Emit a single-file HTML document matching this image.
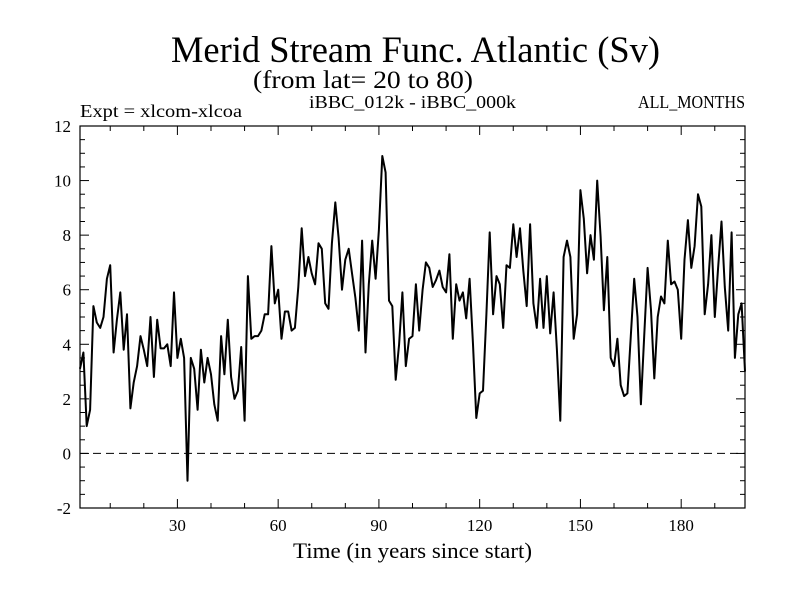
<!DOCTYPE html>
<html><head><meta charset="utf-8"><style>
body{margin:0;background:#fff}
svg{display:block;font-family:"Liberation Serif",serif}
</style></head><body>
<svg id="chart" width="800" height="600">
<text x="171" y="62" font-size="37" textLength="489" lengthAdjust="spacingAndGlyphs">Merid Stream Func. Atlantic (Sv)</text>
<text x="253" y="88" font-size="25" textLength="220" lengthAdjust="spacingAndGlyphs">(from lat= 20 to 80)</text>
<text x="80" y="117" font-size="18" textLength="162" lengthAdjust="spacingAndGlyphs">Expt = xlcom-xlcoa</text>
<text x="309" y="108" font-size="18" textLength="207" lengthAdjust="spacingAndGlyphs">iBBC_012k - iBBC_000k</text>
<text x="638" y="108" font-size="18" textLength="107" lengthAdjust="spacingAndGlyphs">ALL_MONTHS</text>
<text x="293" y="558" font-size="22" textLength="239" lengthAdjust="spacingAndGlyphs">Time (in years since start)</text>
<g id="axes"></g>
<g id="plot"></g>
</svg>
<script>
const years=[];for(let i=1;i<=199;i++)years.push(i);
const values=[3.1,3.7,1.0,1.6,5.4,4.8,4.6,5.0,6.4,6.9,3.7,4.9,5.9,3.8,5.1,1.65,2.6,3.2,4.3,3.8,3.2,5.0,2.8,4.9,3.85,3.85,4.0,3.2,5.9,3.5,4.2,3.5,-1.0,3.5,3.1,1.6,3.8,2.6,3.5,2.9,1.8,1.2,4.3,2.9,4.9,2.8,2.0,2.3,3.9,1.2,
6.5,4.2,4.3,4.3,4.5,5.1,5.1,7.6,5.5,6.0,4.2,5.2,5.2,4.5,4.6,6.1,8.25,6.5,7.2,6.6,6.2,7.7,7.5,5.5,5.3,7.7,9.2,7.9,6.0,7.1,7.5,6.6,5.7,4.5,7.8,3.7,6.2,7.8,6.4,8.2,10.9,10.3,5.6,5.4,2.7,4.0,
5.9,3.2,4.2,4.3,6.2,4.5,6.0,7.0,6.8,6.1,6.35,6.7,6.1,5.9,7.3,4.2,6.2,5.6,5.9,4.95,6.4,4.0,1.3,2.2,2.3,5.1,8.1,5.1,6.5,6.2,4.6,6.9,6.8,8.4,7.2,8.25,6.7,5.4,8.4,5.5,4.6,6.4,4.6,6.5,4.4,5.9,3.8,1.2,
7.2,7.8,7.2,4.2,5.1,9.65,8.6,6.6,8.0,7.1,10.0,7.95,5.25,7.2,3.5,3.2,4.2,2.5,2.1,2.2,4.3,6.4,5.0,1.8,4.3,6.8,5.25,2.75,5.0,5.75,5.5,7.8,6.2,6.3,6.0,4.2,7.1,8.55,6.8,7.6,9.5,9.05,5.1,6.2,8.0,5.0,6.8,8.5,6.1,4.5,8.1,3.5,5.1,5.5,3.0];
const yTicks=[-2,0,2,4,6,8,10,12];
const xTicks=[30,60,90,120,150,180];
const NS='http://www.w3.org/2000/svg';
const L=80,R=745,T=126,B=508;
const xs=v=>L+(v-1)*(R-L)/198;
const ys=v=>B-(v+2)*(B-T)/14;
const axes=document.getElementById('axes'),plot=document.getElementById('plot');
function mk(tag,at,parent){const e=document.createElementNS(NS,tag);for(const k in at)e.setAttribute(k,at[k]);parent.appendChild(e);return e;}
const frame=mk('rect',{x:L,y:T,width:R-L,height:B-T,fill:'none',stroke:'#000','stroke-width':1.2},axes);


for(let v=-2;v<=12.001;v+=0.5){const y=ys(v);const len=(Math.abs(v%2)<1e-6)?9:5;
 mk('line',{x1:L,x2:L+len,y1:y,y2:y,stroke:'#000'},axes);mk('line',{x1:R,x2:R-len,y1:y,y2:y,stroke:'#000'},axes);}
yTicks.forEach(v=>{const t=mk('text',{x:71,y:ys(v)+6,'font-size':17,'text-anchor':'end'},axes);t.textContent=v;
 
 });
for(let v=10;v<=190;v+=10){const x=xs(v);const len=(v%30===0)?9:5;
 mk('line',{x1:x,x2:x,y1:B,y2:B-len,stroke:'#000'},axes);mk('line',{x1:x,x2:x,y1:T,y2:T+len,stroke:'#000'},axes);}
xTicks.forEach(v=>{const t=mk('text',{x:xs(v),y:531,'font-size':17,'text-anchor':'middle'},axes);t.textContent=v;
 
 });
const zero=mk('line',{x1:L,x2:R,y1:ys(0),y2:ys(0),stroke:'#000','stroke-dasharray':'8,5'},plot);


const line=mk('polyline',{points:values.map((v,i)=>xs(years[i]).toFixed(1)+','+ys(v).toFixed(1)).join(' '),fill:'none',stroke:'#000','stroke-width':2,'stroke-linejoin':'round'},plot);


</script>
</body></html>
